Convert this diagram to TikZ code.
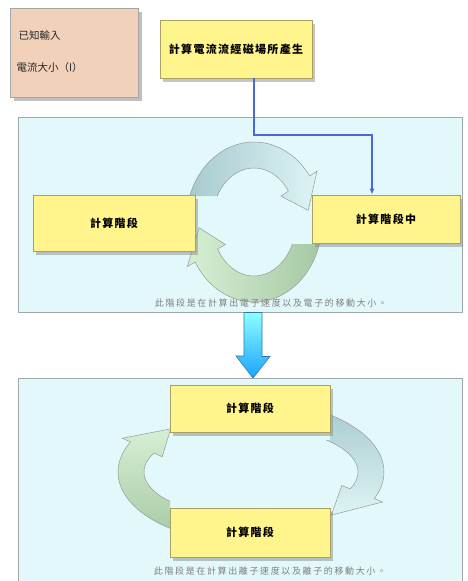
\documentclass[tikz,border=0pt]{standalone}
\usepackage{fontspec}
\newfontfamily\cjk{Noto Sans CJK TC}
\newfontfamily\cjkbox{Noto Sans CJK TC}[LetterSpace=12]
\newfontfamily\cjkcap{Noto Sans CJK TC}[LetterSpace=18]
\usetikzlibrary{shadows,arrows.meta}
\definecolor{boxyellow}{HTML}{FFF58C}
\definecolor{boxedge}{HTML}{A9A163}
\definecolor{peach}{HTML}{F2D1BA}
\definecolor{panelfill}{HTML}{E2F8FA}
\definecolor{paneledge}{HTML}{A0A8AC}
\definecolor{linkblue}{HTML}{4A66E0}
\definecolor{tealdark}{HTML}{A6C9CE}
\definecolor{teallight}{HTML}{DDF4F4}
\definecolor{greenlight}{HTML}{D6EFD3}
\definecolor{greendark}{HTML}{A5C8A3}
\tikzset{
  stagebox/.style={draw=boxedge, line width=0.8pt, fill=boxyellow, font=\cjkbox\bfseries\fontsize{11}{13}\selectfont,
    drop shadow={opacity=0.45, shadow xshift=3pt, shadow yshift=-4pt}},
  panel/.style={draw=paneledge, line width=1pt, fill=panelfill},
  caption/.style={text=black!50, font=\cjkcap\fontsize{9}{11}\selectfont},
  ringedge/.style={draw=black!40, line width=0.5pt},
  linkline/.style={draw=linkblue, line width=1.2pt, -{Latex[length=6pt,width=5pt]}}
}
\def\rw{13}
\def\rh{22}
% #1 options, #2 cx, #3 cy, #4 a, #5 b, #6 start angle, #7 head base angle, #8 tip angle
\newcommand\ringarr[8]{%
  \path[#1] plot[domain=#6:#7,samples=50] ({#2+(#4+\rw)*cos(\x)},{#3+(#5+\rw)*sin(\x)})
    -- ({#2+(#4+\rh)*cos(#7)},{#3+(#5+\rh)*sin(#7)})
    -- ({#2+#4*cos(#8)},{#3+#5*sin(#8)})
    -- ({#2+(#4-\rh)*cos(#7)},{#3+(#5-\rh)*sin(#7)})
    -- plot[domain=#7:#6,samples=50] ({#2+(#4-\rw)*cos(\x)},{#3+(#5-\rw)*sin(\x)})
    -- cycle;}
\begin{document}
\begin{tikzpicture}[x=1pt,y=-1pt]
\useasboundingbox (0,0) rectangle (467,581);
\fill[white] (0,0) rectangle (467,581);

% input box
\node[draw=black!35, fill=peach, minimum width=128pt, minimum height=89pt,
  drop shadow={opacity=0.5, shadow xshift=4pt, shadow yshift=-4pt}] (inp) at (74,52.5) {};
\node[anchor=west, font=\cjk\fontsize{10.5}{12}\selectfont, text=black!85] (inp1) at (15,35) {已知輸入};
\node[anchor=west, font=\cjk\fontsize{10.5}{12}\selectfont, text=black!85] (inp2) at (13,68) {電流大小（I）};

% panels
\node[panel, minimum width=444pt, minimum height=195pt] (p1) at (240,214.5) {};
\node[panel, minimum width=444pt, minimum height=230pt] (p2) at (240,493) {};

% ring arrows, panel 1
\begin{scope}
  \clip (18,117) -- (462,117) -- (462,312) -- (240,312) -- (240,196) -- (18,196) -- cycle;
  \ringarr{ringedge, left color=tealdark, right color=teallight}{254}{222}{55}{67}{180}{325}{350}
\end{scope}
\begin{scope}
  \clip (18,117) -- (265,117) -- (265,244) -- (462,244) -- (462,312) -- (18,312) -- cycle;
  \ringarr{ringedge, left color=greenlight, right color=greendark}{254}{222}{55}{67}{0}{150}{175}
\end{scope}

% ring arrows, panel 2
\begin{scope}
  \clip (330,378) -- (462,378) -- (462,590) -- (18,590) -- (18,440) -- (330,440) -- cycle;
  \ringarr{ringedge, top color=tealdark, bottom color=teallight}{251}{472}{120}{58}{-90}{22}{48}
\end{scope}
\begin{scope}
  \clip (18,378) -- (462,378) -- (462,500) -- (170,500) -- (170,590) -- (18,590) -- cycle;
  \ringarr{ringedge, top color=greenlight, bottom color=greendark}{251}{472}{120}{58}{90}{205}{228}
\end{scope}

% boxes
\node[stagebox, minimum width=152pt, minimum height=58pt] (calc) at (236,49) {計算電流流經磁場所產生};
\node[stagebox, minimum width=162pt, minimum height=56pt] (s1) at (114,223) {計算階段};
\node[stagebox, minimum width=148pt, minimum height=48pt] (s2) at (386,219) {計算階段中};
\node[stagebox, minimum width=160pt, minimum height=47pt] (s3) at (250,408.5) {計算階段};
\node[stagebox, minimum width=160pt, minimum height=49pt] (s4) at (250,532.5) {計算階段};

% captions
\node[caption] (c1) at (271,303) {此階段是在計算出電子速度以及電子的移動大小。};
\node[caption] (c2) at (270,571) {此階段是在計算出離子速度以及離子的移動大小。};

% connector
\coordinate (bend) at (372,135);
\draw[linkline] ([xshift=18pt]calc.south) |- (bend) -- (bend |- s2.north);

% big arrow between panels
\path[draw=black!30!cyan!70!blue, line width=0.6pt, top color=cyan!45, bottom color=cyan!60!blue!90]
  ([xshift=-9pt]p1.south -| 253,0) coordinate (ba) -- ++(18,0) -- ++(0,44) -- ++(8,0)
  -- (253,378) -- ++(-17,-22) -- ++(8,0) -- cycle;
\end{tikzpicture}
\end{document}
